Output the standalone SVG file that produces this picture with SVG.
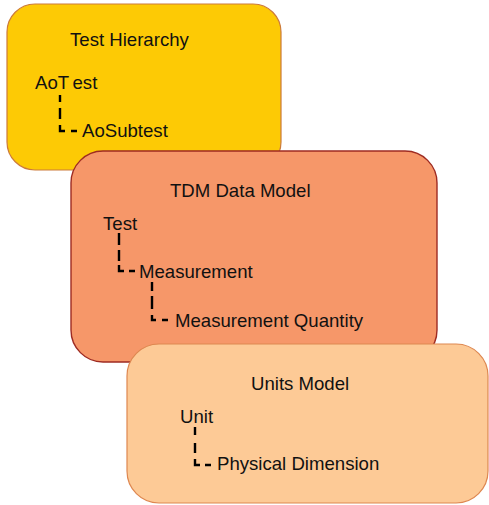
<svg xmlns="http://www.w3.org/2000/svg" width="489" height="505" viewBox="0 0 489 505">
  <style>
    .label { font-family: "Liberation Sans", Arial, sans-serif; font-size: 18.6px; fill: #111; }
    .tree { fill: none; stroke: #000; stroke-width: 2.4; stroke-linecap: butt; stroke-linejoin: miter; }
  </style>
  <rect width="489" height="505" fill="#ffffff"/>

  <!-- Test Hierarchy panel -->
  <g id="test-hierarchy">
    <rect x="7" y="4" width="274" height="166" rx="28" ry="28" fill="#FDCA05" stroke="#CC7A3A" stroke-width="1.2"/>
    <text class="label" x="70" y="46">Test Hierarchy</text>
    <text class="label" y="89"><tspan x="35">AoT</tspan><tspan x="72.5">est</tspan></text>
    <text class="label" x="82" y="137">AoSubtest</text>
  </g>

  <!-- TDM Data Model panel -->
  <g id="tdm-data-model">
    <rect x="71" y="151" width="366" height="211" rx="32" ry="32" fill="#F69769" stroke="#9E2B22" stroke-width="1.4"/>
    <text class="label" x="170" y="197">TDM Data Model</text>
    <text class="label" x="103" y="230">Test</text>
    <text class="label" x="139" y="278">Measurement</text>
    <text class="label" x="175" y="327">Measurement Quantity</text>
  </g>

  <!-- Units Model panel -->
  <g id="units-model">
    <rect x="127" y="344" width="361" height="159" rx="32" ry="32" fill="#FDCA96" stroke="#DE8750" stroke-width="1.2"/>
    <text class="label" x="251" y="390">Units Model</text>
    <text class="label" x="180" y="423">Unit</text>
    <text class="label" x="217" y="470">Physical Dimension</text>
  </g>

  <!-- dashed tree connectors -->
  <g id="connectors" class="tree">
    <path d="M60,95 v7 M60,108 v11 M60,125 v6 h5 M71,131 h6"/>
    <path d="M119,233 v12 M119,250 v11 M119,265 v6 h5 M129,271 h6"/>
    <path d="M152,282 v9 M152,296 v13 M152,315 v5 h4 M162,320 h6"/>
    <path d="M195,427 v8 M195,443 v10 M195,459 v6 h5 M205,465 h6"/>
  </g>
</svg>
